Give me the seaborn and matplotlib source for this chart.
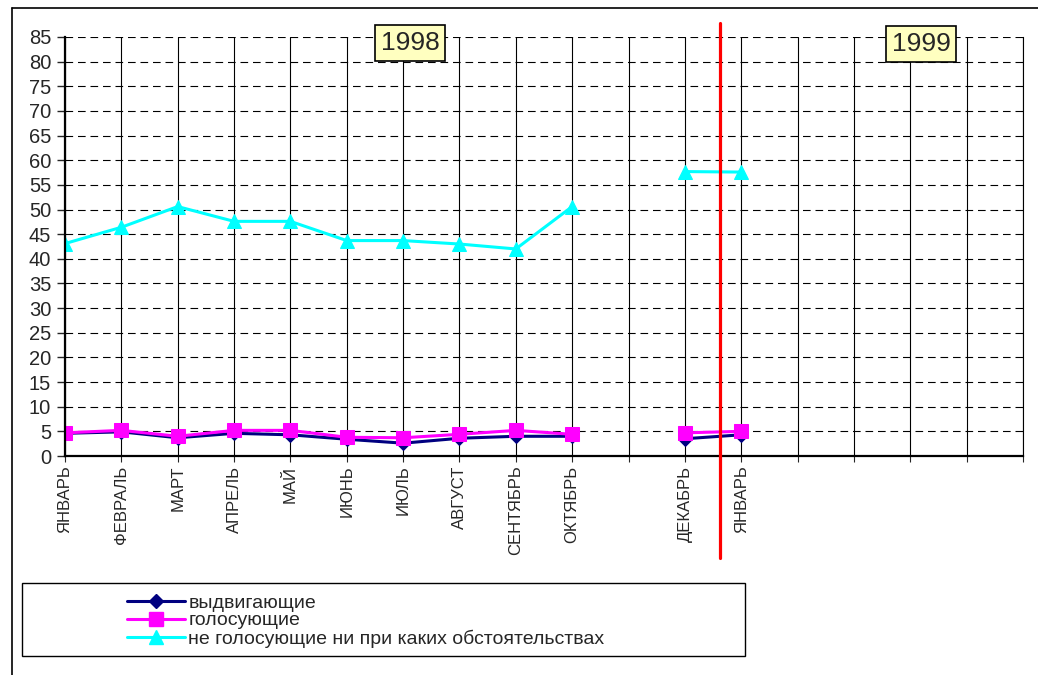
import numpy as np
import pandas as pd
import matplotlib.pyplot as plt
import seaborn as sns
from matplotlib.lines import Line2D
from matplotlib.patches import Rectangle

# categories along the x axis (blank = no data / no label)
month_labels = ['ЯНВАРЬ', 'ФЕВРАЛЬ', 'МАРТ', 'АПРЕЛЬ', 'МАЙ', 'ИЮНЬ', 'ИЮЛЬ',
                'АВГУСТ', 'СЕНТЯБРЬ', 'ОКТЯБРЬ', '', 'ДЕКАБРЬ', 'ЯНВАРЬ',
                '', '', '', '', '']

nan = np.nan
nominating = [4.6, 4.9, 3.7, 4.6, 4.3, 3.4, 2.6, 3.6, 4.0, 4.0, nan, 3.5, 4.3]
voting = [4.7, 5.2, 4.0, 5.2, 5.2, 3.8, 3.7, 4.4, 5.2, 4.4, nan, 4.7, 5.0]
never_voting = [43.1, 46.4, 50.6, 47.6, 47.6, 43.7, 43.7, 43.0, 42.0, 50.6, nan, 57.7, 57.6]

series_names = ['выдвигающие', 'голосующие', 'не голосующие ни при каких обстоятельствах']
series_colors = ['#000080', '#FF00FF', '#00FFFF']
series_markers = ['D', 's', '^']
marker_sizes = [7, 10, 10]

year_labels = ['1998', '1999']

rows = []
for name, vals in zip(series_names, [nominating, voting, never_voting]):
    for i, v in enumerate(vals):
        if np.isnan(v):
            continue
        rows.append({'x': i, 'value': v, 'series': name, 'seg': 0 if i < 10 else 1})
df = pd.DataFrame(rows)

sns.set_style('white')
plt.rcParams['font.family'] = ['Liberation Sans', 'DejaVu Sans']
plt.rcParams['lines.scale_dashes'] = False

W, H = 1038, 675
fig = plt.figure(figsize=(W / 100, H / 100), dpi=100)
ax = fig.add_axes([65 / W, 1 - 456 / H, (1023 - 65) / W, (456 - 37) / H])

for name, c, m, ms in zip(series_names, series_colors, series_markers, marker_sizes):
    sub = df[df['series'] == name]
    sns.lineplot(data=sub, x='x', y='value', units='seg', estimator=None,
                 color=c, marker=m, markersize=ms, markeredgecolor=c,
                 linewidth=2.2, ax=ax, legend=False)

ax.set_xlim(0, 17)
ax.set_ylim(0, 85)
ax.set_xticks(range(len(month_labels)))
ax.set_xticklabels(month_labels, rotation=90, fontsize=12, va='top')
ax.set_yticks(range(0, 90, 5))
ax.tick_params(axis='y', labelsize=14.5, direction='out', length=6, width=1, left=True, pad=4)
ax.tick_params(axis='x', direction='out', length=4, width=0.8, bottom=True, pad=3)
ax.set_xlabel('')
ax.set_ylabel('')

ax.xaxis.grid(True, color='black', lw=0.8, ls='-')
ax.yaxis.grid(True, color='black', lw=0.8, ls=(0, (5.5, 3.5)))
ax.set_axisbelow(True)
ax.spines['top'].set_visible(False)
ax.spines['right'].set_color('black')
ax.spines['right'].set_linewidth(0.8)
for s in ['left', 'bottom']:
    ax.spines[s].set_color('black')
    ax.spines[s].set_linewidth(1.6)

# red separator between years
ax.plot([11.62, 11.62], [-20.7, 87.8], color='red', lw=2.3, clip_on=False, zorder=5)

# year boxes
for lbl, (fx, fy) in zip(year_labels, [(410, 43), (921, 44)]):
    fig.text(fx / W, 1 - fy / H, lbl, ha='center', va='center', fontsize=19,
             bbox=dict(boxstyle='square,pad=0.22', facecolor='#FFFFC0', edgecolor='black', lw=1.2))

# legend
handles = [Line2D([], [], color=c, marker=m, markersize=ms, markeredgecolor=c, lw=2.2)
           for c, m, ms in zip(series_colors, series_markers, marker_sizes)]
fig.legend(handles, series_names, loc='center left', bbox_to_anchor=(127 / W, 1 - 621 / H),
           frameon=False, fontsize=14, handlelength=3.0, handletextpad=0.15,
           labelspacing=0.0, borderpad=0, borderaxespad=0)
fig.add_artist(Rectangle((22 / W, 1 - 656 / H), (745 - 22) / W, (656 - 583) / H,
                         transform=fig.transFigure, fill=False, edgecolor='black', lw=1))

# outer chart frame
fig.add_artist(Line2D([12 / W, 12 / W], [0, 1 - 8 / H], color='black', lw=1.2))
fig.add_artist(Line2D([12 / W, 1], [1 - 8 / H, 1 - 8 / H], color='black', lw=1.2))

fig.savefig('out.png', dpi=100)
